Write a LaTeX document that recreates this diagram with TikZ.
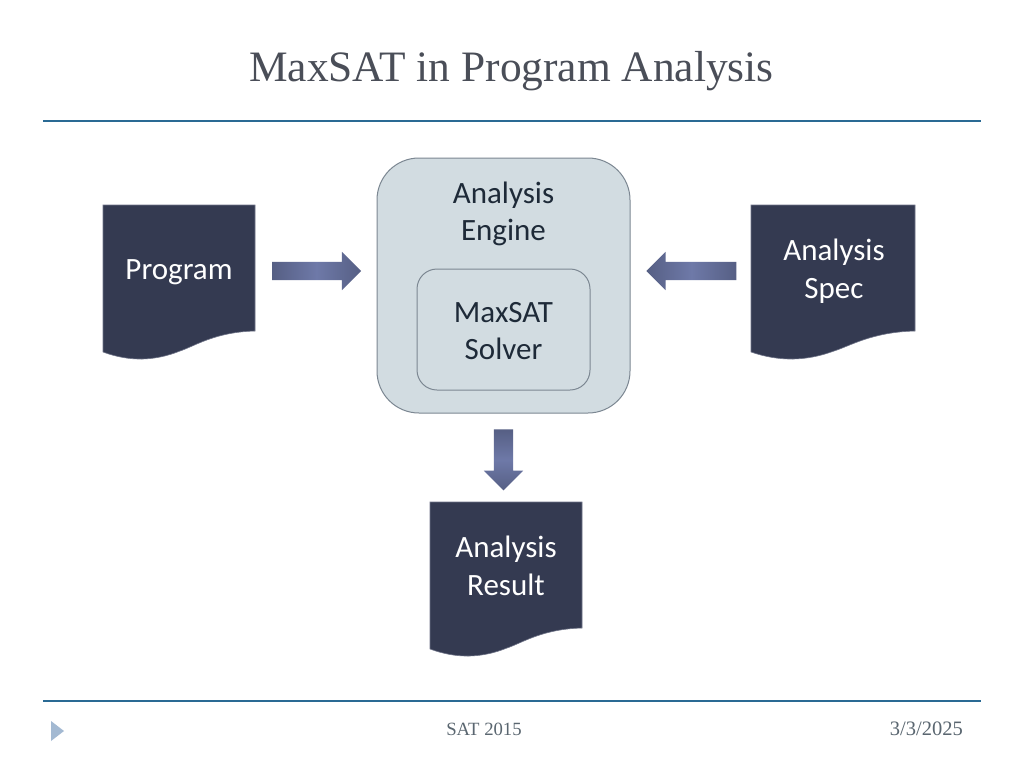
\documentclass[tikz,border=0pt]{standalone}
\usepackage{fontspec}
\setmainfont{Carlito}
\newfontfamily\serifface{Liberation Serif}
\usetikzlibrary{shapes.arrows}
\definecolor{docdark}{HTML}{343A51}
\definecolor{docedge}{HTML}{6F7488}
\definecolor{enginefill}{HTML}{D2DCE1}
\definecolor{engineedge}{HTML}{7C8792}
\definecolor{rulecol}{HTML}{2A6A94}
\definecolor{titlecol}{HTML}{4A4E58}
\definecolor{footcol}{HTML}{5A6670}
\definecolor{arrowa}{HTML}{565F84}
\definecolor{arrowb}{HTML}{6E79A8}
\definecolor{bodyink}{HTML}{1E2A38}
\definecolor{markcol}{HTML}{A3B9D2}
\tikzset{
  bodytext/.style={align=center,inner sep=0pt,font=\fontsize{31}{37.5}\selectfont},
  doclabel/.style={bodytext,text=white},
  enginelabel/.style={bodytext,text=bodyink},
  docshape/.style={fill=docdark,draw=docedge,line width=0.6pt},
  enginebox/.style={rectangle,draw=engineedge,fill=enginefill,line width=1pt,inner sep=0pt},
  blockarrow/.style={single arrow,single arrow head extend=10pt,single arrow tip angle=90,
    inner sep=0pt,text depth=0pt,minimum height=#1,draw=none},
  rulebar/.style={draw=rulecol,line width=2.8pt},
  footer/.style={inner sep=0pt,text=footcol,font=\serifface\fontsize{18.7}{22}\selectfont},
}
\begin{document}
\begin{tikzpicture}[x=1pt,y=-1pt]
\useasboundingbox (0,0) rectangle (1024,768);
\fill[white] (0,0) rectangle (1024,768);
% title and rules
\node[inner sep=0pt,text=titlecol,font=\serifface\fontsize{43.4}{50}\selectfont] (title) at (511.5,71) {MaxSAT in Program Analysis};
\coordinate (topl) at (43,121); \coordinate (topr) at (981,121);
\coordinate (botl) at (43,701); \coordinate (botr) at (981,701);
\draw[rulebar] (topl) -- (topr);
\draw[rulebar] (botl) -- (botr);
\fill[markcol] (51,721) -- (64,731) -- (51,741) -- cycle;
% engine
\node[enginebox,rounded corners=42pt,minimum width=253pt,minimum height=255pt] (engine) at (503.5,285.5) {};
\node[enginelabel] (enginetext) at (503.5,214) {Analysis\\Engine};
\node[enginebox,rounded corners=20pt,minimum width=173pt,minimum height=121pt] (solver) at (503.5,329.5) {};
\node[enginelabel] (solvertext) at (503.5,331) {MaxSAT\\Solver};
% documents
\draw[docshape] (103,205) -- (255,205) -- (255,331)
  .. controls (215,332) and (195,346) .. (180,351)
  .. controls (155,361) and (130,362) .. (103,352) -- cycle;
\node[doclabel] (program) at (179,272) {Program};
\draw[docshape] (751,205) -- (915,205) -- (915,331)
  .. controls (872,332) and (850,346) .. (834,351)
  .. controls (807,361) and (780,362) .. (751,352) -- cycle;
\node[doclabel] (spec) at (834,271) {Analysis\\Spec};
\draw[docshape] (430,502) -- (582,502) -- (582,628)
  .. controls (542,629) and (522,643) .. (507,648)
  .. controls (482,658) and (457,659) .. (430,649) -- cycle;
\node[doclabel] (result) at (506,566) {Analysis\\Result};
% block arrows
\node[blockarrow=89pt,text height=18pt,text width=0pt,left color=arrowa,right color=arrowa,middle color=arrowb] (arrowprogram) at (312,271) {};
\node[blockarrow=90pt,text height=18pt,text width=0pt,shape border rotate=180,left color=arrowa,right color=arrowa,middle color=arrowb] (arrowspec) at (696,271) {};
\node[blockarrow=61pt,text height=0pt,text width=19pt,shape border rotate=270,top color=arrowa,bottom color=arrowa,middle color=arrowb] (arrowresult) at (503.5,455) {};
% footer
\node[footer] (foot) at (484,729) {SAT 2015};
\node[footer,anchor=east,font=\serifface\fontsize{20.5}{22}\selectfont] (date) at (963,729) {3/3/2025};
\end{tikzpicture}
\end{document}
